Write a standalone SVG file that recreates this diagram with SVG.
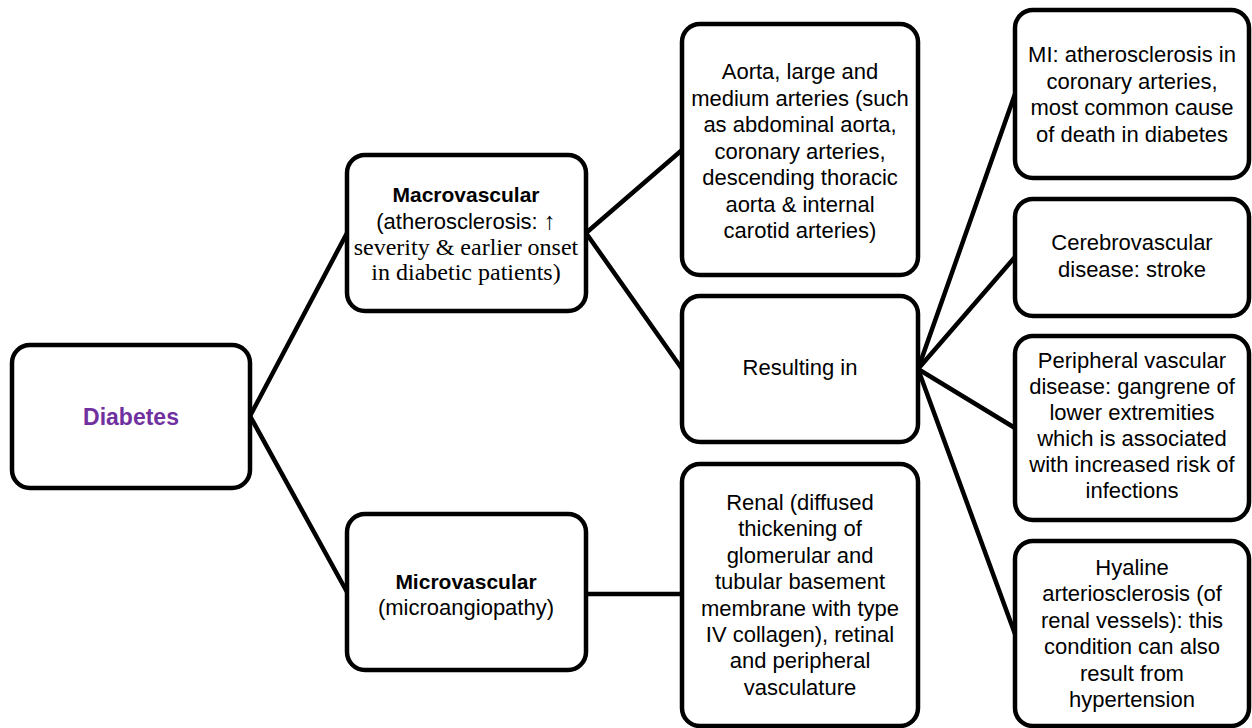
<svg xmlns="http://www.w3.org/2000/svg" width="1252" height="728" viewBox="0 0 1252 728">
<style>
.box{fill:#fff;stroke:#000;stroke-width:4.5}
.t{font-family:"Liberation Sans",Arial,sans-serif;font-size:22px;fill:#000;text-anchor:middle}
.s{font-family:"Liberation Serif","Times New Roman",serif;font-size:24px;fill:#000;text-anchor:middle}
.b{font-weight:bold}
.c line{stroke:#000;stroke-width:4.5;stroke-linecap:round}
</style>
<rect width="1252" height="728" fill="#fff"/>
<g class="c" id="connectors">
<line x1="250" y1="416" x2="347" y2="233"/>
<line x1="250" y1="416" x2="347" y2="592"/>
<line x1="586" y1="233" x2="682" y2="150"/>
<line x1="586" y1="233" x2="682" y2="369"/>
<line x1="586" y1="594" x2="682" y2="594"/>
<line x1="918" y1="369" x2="1015" y2="94"/>
<line x1="918" y1="369" x2="1015" y2="257"/>
<line x1="918" y1="369" x2="1015" y2="428"/>
<line x1="918" y1="369" x2="1015" y2="634"/>
</g>
<g id="diabetes">
<rect class="box" x="12" y="345" width="238" height="143" rx="18"/>
<text class="t b" x="131" y="425" style="fill:#7030A0;font-size:23px">Diabetes</text>
</g>
<g id="macrovascular">
<rect class="box" x="347" y="155" width="239" height="156" rx="18"/>
<text class="t b" x="466" y="202" style="font-size:21px">Macrovascular</text>
<text class="t" x="466" y="229">(atherosclerosis: <tspan style="font-family:'Liberation Serif','DejaVu Serif',serif;font-size:24px">↑</tspan></text>
<text class="s" x="466" y="255">severity &amp; earlier onset</text>
<text class="s" x="466" y="280">in diabetic patients)</text>
</g>
<g id="microvascular">
<rect class="box" x="347" y="514" width="239" height="156" rx="18"/>
<text class="t b" x="466" y="589" style="font-size:21px">Microvascular</text>
<text class="t" x="466" y="615">(microangiopathy)</text>
</g>
<g id="aorta">
<rect class="box" x="682" y="24" width="236" height="251" rx="18"/>
<text class="t" x="800" y="79">Aorta, large and</text>
<text class="t" x="800" y="105.5">medium arteries (such</text>
<text class="t" x="800" y="132">as abdominal aorta,</text>
<text class="t" x="800" y="158.5">coronary arteries,</text>
<text class="t" x="800" y="185">descending thoracic</text>
<text class="t" x="800" y="211.5">aorta &amp; internal</text>
<text class="t" x="800" y="238">carotid arteries)</text>
</g>
<g id="resulting">
<rect class="box" x="682" y="296" width="236" height="146" rx="18"/>
<text class="t" x="800" y="375">Resulting in</text>
</g>
<g id="renal">
<rect class="box" x="682" y="464" width="236" height="262" rx="18"/>
<text class="t" x="800" y="510">Renal (diffused</text>
<text class="t" x="800" y="536.4">thickening of</text>
<text class="t" x="800" y="562.8">glomerular and</text>
<text class="t" x="800" y="589.2">tubular basement</text>
<text class="t" x="800" y="615.6">membrane with type</text>
<text class="t" x="800" y="642">IV collagen), retinal</text>
<text class="t" x="800" y="668.4">and peripheral</text>
<text class="t" x="800" y="694.8">vasculature</text>
</g>
<g id="mi">
<rect class="box" x="1015" y="10" width="234" height="168" rx="18"/>
<text class="t" x="1132" y="62">MI: atherosclerosis in</text>
<text class="t" x="1132" y="88.5">coronary arteries,</text>
<text class="t" x="1132" y="115">most common cause</text>
<text class="t" x="1132" y="141.5">of death in diabetes</text>
</g>
<g id="cerebrovascular">
<rect class="box" x="1015" y="199" width="234" height="117" rx="18"/>
<text class="t" x="1132" y="250">Cerebrovascular</text>
<text class="t" x="1132" y="276.5">disease: stroke</text>
</g>
<g id="peripheral">
<rect class="box" x="1015" y="336" width="234" height="184" rx="18"/>
<text class="t" x="1132" y="368">Peripheral vascular</text>
<text class="t" x="1132" y="394">disease: gangrene of</text>
<text class="t" x="1132" y="420">lower extremities</text>
<text class="t" x="1132" y="446">which is associated</text>
<text class="t" x="1132" y="472">with increased risk of</text>
<text class="t" x="1132" y="498">infections</text>
</g>
<g id="hyaline">
<rect class="box" x="1015" y="541" width="234" height="185" rx="18"/>
<text class="t" x="1132" y="575">Hyaline</text>
<text class="t" x="1132" y="601.4">arteriosclerosis (of</text>
<text class="t" x="1132" y="627.8">renal vessels): this</text>
<text class="t" x="1132" y="654.2">condition can also</text>
<text class="t" x="1132" y="680.6">result from</text>
<text class="t" x="1132" y="707">hypertension</text>
</g>
</svg>
